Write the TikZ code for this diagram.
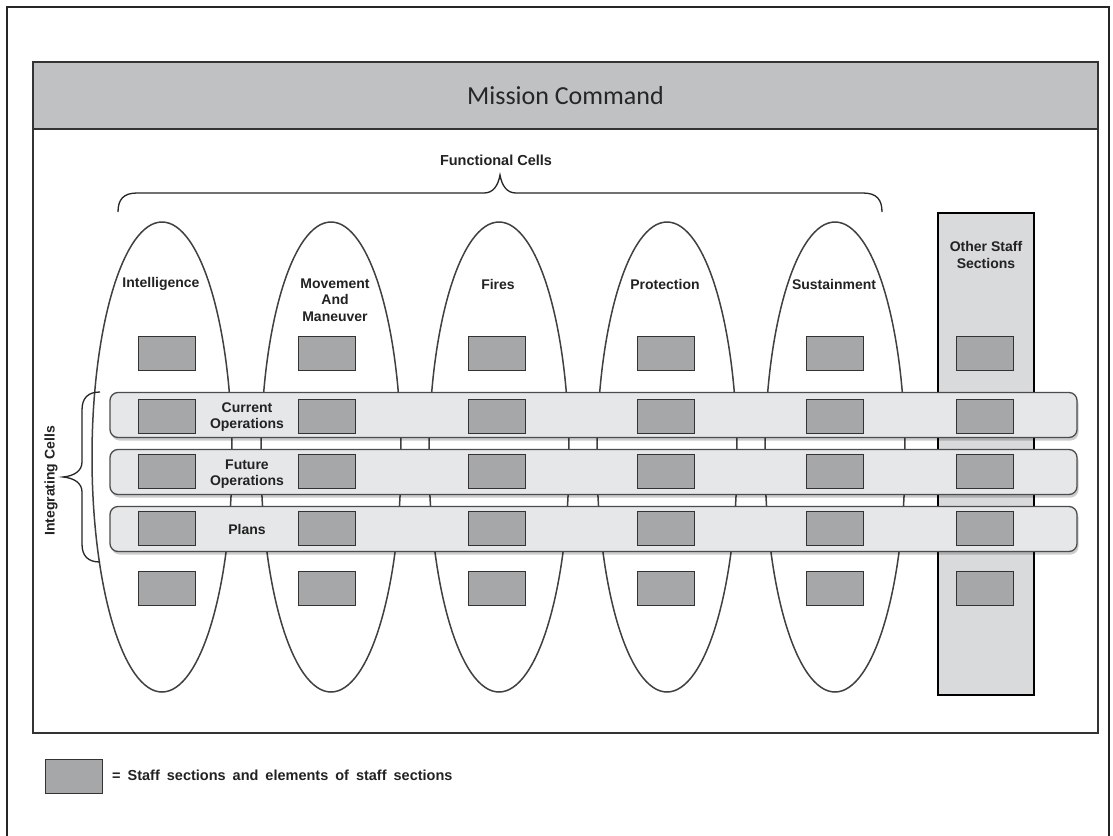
\documentclass[tikz,border=0pt]{standalone}
\usepackage{fontspec}
\setmainfont{Liberation Sans}
\newfontfamily\titlefont{Carlito}
\usetikzlibrary{shapes.geometric,shadows}
\definecolor{hdrfill}{HTML}{C0C1C3}
\definecolor{osfill}{HTML}{D9DADC}
\definecolor{bandfill}{HTML}{E6E7E8}
\definecolor{boxfill}{HTML}{A6A7A9}
\definecolor{linegray}{HTML}{404040}
\definecolor{txt}{HTML}{222222}
\tikzset{
  frameline/.style={line width=2.5pt, draw=black!85},
  hdrbox/.style={draw=black!80, line width=2pt, fill=hdrfill, minimum width=1065pt, minimum height=67pt, anchor=north west, inner sep=0pt},
  bodybox/.style={draw=black!80, line width=2pt, minimum width=1065pt, minimum height=604pt, anchor=north west, inner sep=0pt},
  cellell/.style={ellipse, draw=linegray, line width=1.5pt, minimum width=140pt, minimum height=470pt, inner sep=0pt},
  osbox/.style={draw=black, line width=2.6pt, fill=osfill, minimum width=96pt, minimum height=482pt, inner sep=0pt},
  band/.style={draw=black!70, line width=1.3pt, fill=bandfill, rounded corners=8pt, minimum width=967pt, minimum height=45pt, inner sep=0pt,
    drop shadow={shadow xshift=1.5pt, shadow yshift=-3pt, fill=black, opacity=0.2}},
  sbox/.style={draw=black!80, line width=1pt, fill=boxfill, minimum width=57pt, minimum height=34pt, inner sep=0pt},
  lbl/.style={text=txt, font=\bfseries\fontsize{14}{16.5}\selectfont, align=center, inner sep=0pt},
  bracepath/.style={draw=black!85, line width=1.3pt},
}
\begin{document}
\begin{tikzpicture}[x=1pt,y=-1pt]
\useasboundingbox (0,0) rectangle (1113,835);
\fill[white] (0,0) rectangle (1113,835);
\begin{scope}
\clip (0,0) rectangle (1113,835);
\draw[frameline] (7,7) rectangle (1109,850);
\end{scope}
% main box
\node[bodybox] (body) at (32,128) {};
\node[hdrbox] (hdr) at (32,61) {};
\node[text=black!85, font=\titlefont\fontsize{26}{30}\selectfont, inner sep=0pt] (title) at (hdr.center) {Mission Command};
% functional cells
\node[cellell] (e1) at (162,457) {};
\node[cellell] (e2) at (331,457) {};
\node[cellell] (e3) at (499,457) {};
\node[cellell] (e4) at (667,457) {};
\node[cellell] (e5) at (835,457) {};
\node[osbox] (os) at (986,454) {};
% integrating bands
\node[band] (cur) at (593.5,415) {};
\node[band] (fut) at (593.5,472) {};
\node[band] (pla) at (593.5,529) {};
% staff boxes
\foreach \c/\x in {1/167,2/327,3/497,4/666,5/835,6/985}{
  \foreach \r/\y in {1/353,2/416,3/471,4/528,5/588}{
    \node[sbox] (b\c-\r) at (\x,\y) {};
  }
}
% labels
\node[lbl] (l1) at (161,284) {Intelligence};
\node[lbl] (l2) at (335,300) {Movement\\And\\Maneuver};
\node[lbl] (l3) at (498,284) {Fires};
\node[lbl] (l4) at (665,284) {Protection};
\node[lbl] (l5) at (834,284) {Sustainment};
\node[lbl] (l6) at (986,255) {Other Staff\\Sections};
\node[lbl] (lc) at (247,417) {Current\\Operations};
\node[lbl] (lf) at (247,474) {Future\\Operations};
\node[lbl] (lp) at (247,529) {Plans};
\node[lbl, font=\bfseries\fontsize{14.5}{17}\selectfont] (fc) at (496,160) {Functional Cells};
\node[lbl, rotate=90] (ic) at (51,481) {Integrating Cells};
% braces
\coordinate (fbl) at (118,212);
\coordinate (fbr) at (882,212);
\coordinate (fbt) at (500,175);
\draw[bracepath] (fbl) .. controls (118,200) and (123,193) .. (137,193) -- (484,193)
  .. controls (493,193) and (498,186) .. (fbt) .. controls (502,186) and (507,193) .. (516,193)
  -- (863,193) .. controls (877,193) and (882,200) .. (fbr);
\coordinate (ibt) at (100,392);
\coordinate (ibb) at (100,562);
\coordinate (ibm) at (63,477);
\draw[bracepath] (ibt) .. controls (88,392) and (82,398) .. (82,410) -- (82,462)
  .. controls (82,471) and (74,476) .. (ibm) .. controls (74,478) and (82,483) .. (82,492)
  -- (82,544) .. controls (82,556) and (88,562) .. (ibb);
% legend
\node[sbox] (leg) at (73.5,776) {};
\node[lbl, anchor=west, font=\bfseries\fontsize{14.5}{17}\selectfont] (legt) at (112,775) {\spaceskip=7pt = Staff sections and elements of staff sections};
\end{tikzpicture}
\end{document}
